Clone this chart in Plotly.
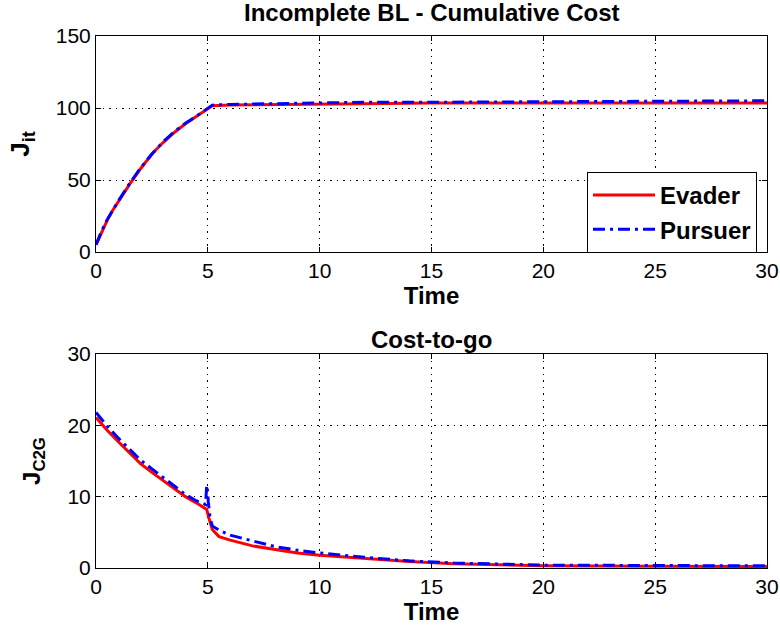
import plotly.graph_objects as go
from plotly.subplots import make_subplots

# ---- data ----
t_top = [0, 0.25, 0.5, 0.75, 1, 1.5, 2, 2.5, 3, 3.5, 4, 4.5, 4.95, 5.2, 6, 8, 10, 12, 15, 20, 25, 30]
evader_J = [5, 14, 22, 29, 35, 47, 58, 68, 76, 83, 89, 94, 98.5, 101.5, 102, 102.5, 103, 103, 103.5, 103.5, 103.5, 103.5]
pursuer_J = [5, 14.5, 22.5, 29.5, 35.5, 47.5, 58.5, 68, 76.5, 83.5, 89.5, 94.5, 99, 102, 102.5, 103, 103.5, 104, 104, 104.5, 104.5, 105]

t_eva = [0, 0.5, 1, 1.5, 2, 2.5, 3, 3.5, 4, 4.5, 4.95, 5.05, 5.2, 5.5, 6, 7, 8, 9, 10, 12, 14, 16, 18, 20, 25, 30]
evader_C2G = [21.1, 19.3, 17.7, 16.1, 14.6, 13.4, 12.3, 11.1, 10.0, 9.1, 8.2, 7.0, 5.4, 4.4, 3.9, 3.1, 2.6, 2.1, 1.8, 1.3, 0.9, 0.6, 0.4, 0.3, 0.25, 0.2]
t_pur = [0, 0.5, 1, 1.5, 2, 2.5, 3, 3.5, 4, 4.5, 4.9, 4.95, 5.0, 5.02, 5.1, 5.2, 5.5, 6, 7, 8, 9, 10, 12, 14, 16, 18, 20, 25, 30]
pursuer_C2G = [21.8, 19.9, 18.2, 16.6, 15.1, 13.9, 12.7, 11.5, 10.3, 9.4, 8.9, 11.6, 10.5, 9.3, 7.0, 5.9, 5.3, 4.6, 3.8, 3.0, 2.5, 2.1, 1.5, 1.0, 0.7, 0.5, 0.4, 0.35, 0.3]

x_ticks = [0, 5, 10, 15, 20, 25, 30]
y_ticks_top = [0, 50, 100, 150]
y_ticks_bot = [0, 10, 20, 30]

FONT = "Liberation Sans, Arial, sans-serif"
RED = "#ff0000"
BLUE = "#0000ff"
DASHDOT = "12px,5px,3px,5px"

fig = make_subplots(rows=2, cols=1)

fig.add_trace(go.Scatter(x=t_top, y=evader_J, mode="lines", name="<b>Evader</b>",
                         line=dict(color=RED, width=3)), row=1, col=1)
fig.add_trace(go.Scatter(x=t_top, y=pursuer_J, mode="lines", name="<b>Pursuer</b>",
                         line=dict(color=BLUE, width=3, dash=DASHDOT)), row=1, col=1)
fig.add_trace(go.Scatter(x=t_eva, y=evader_C2G, mode="lines", name="Evader", showlegend=False,
                         line=dict(color=RED, width=3)), row=2, col=1)
fig.add_trace(go.Scatter(x=t_pur, y=pursuer_C2G, mode="lines", name="Pursuer", showlegend=False,
                         line=dict(color=BLUE, width=3, dash=DASHDOT)), row=2, col=1)

W, H = 780, 631
top_dom = [1 - 252 / H, 1 - 36 / H]
bot_dom = [1 - 568 / H, 1 - 354 / H]

axis_common = dict(showline=True, linecolor="black", linewidth=1, mirror="ticks",
                   ticks="inside", ticklen=5, tickcolor="black", automargin=False,
                   showgrid=True, gridcolor="black", griddash="1.5px,5px", gridwidth=1,
                   zeroline=False, tickfont=dict(family=FONT, size=21, color="black"))

time_title = dict(text="<b>Time</b>", font=dict(family=FONT, size=24, color="black"), standoff=0)
fig.update_xaxes(range=[0, 30], tickvals=x_ticks, **axis_common)
fig.update_xaxes(title=time_title, row=1, col=1)
fig.update_xaxes(title=time_title, row=2, col=1)
fig.update_yaxes(range=[0, 150], tickvals=y_ticks_top, domain=top_dom,
                 title=dict(text="<b>J<sub>it</sub></b>", font=dict(family=FONT, size=26, color="black"), standoff=18),
                 row=1, col=1, **axis_common)
fig.update_yaxes(range=[0, 30], tickvals=y_ticks_bot, domain=bot_dom,
                 title=dict(text="<b>J<sub>C2G</sub></b>", font=dict(family=FONT, size=24, color="black"), standoff=20),
                 row=2, col=1, **axis_common)

fig.update_layout(
    width=W, height=H,
    margin=dict(l=96, r=13, t=0, b=0, autoexpand=False),
    paper_bgcolor="white", plot_bgcolor="white",
    font=dict(family=FONT, color="black"),
    showlegend=True,
    legend=dict(x=(587 - 96) / 671, y=1 - 172 / H, xanchor="left", yanchor="top",
                bgcolor="white", bordercolor="black", borderwidth=1, itemwidth=62,
                font=dict(family=FONT, size=24, color="black"), tracegroupgap=0),
    annotations=[
        dict(text="<b>Incomplete BL - Cumulative Cost</b>", x=0.5, xref="paper",
             y=1 - 13 / H, yref="paper", showarrow=False, xanchor="center", yanchor="middle",
             font=dict(family=FONT, size=24, color="black")),
        dict(text="<b>Cost-to-go</b>", x=0.5, xref="paper",
             y=1 - 339 / H, yref="paper", showarrow=False, xanchor="center", yanchor="middle",
             font=dict(family=FONT, size=24, color="black")),
    ],
)

fig.write_html("out.html", config={"displayModeBar": False},
               post_script="document.body.style.margin='0';document.body.style.overflow='hidden';")
